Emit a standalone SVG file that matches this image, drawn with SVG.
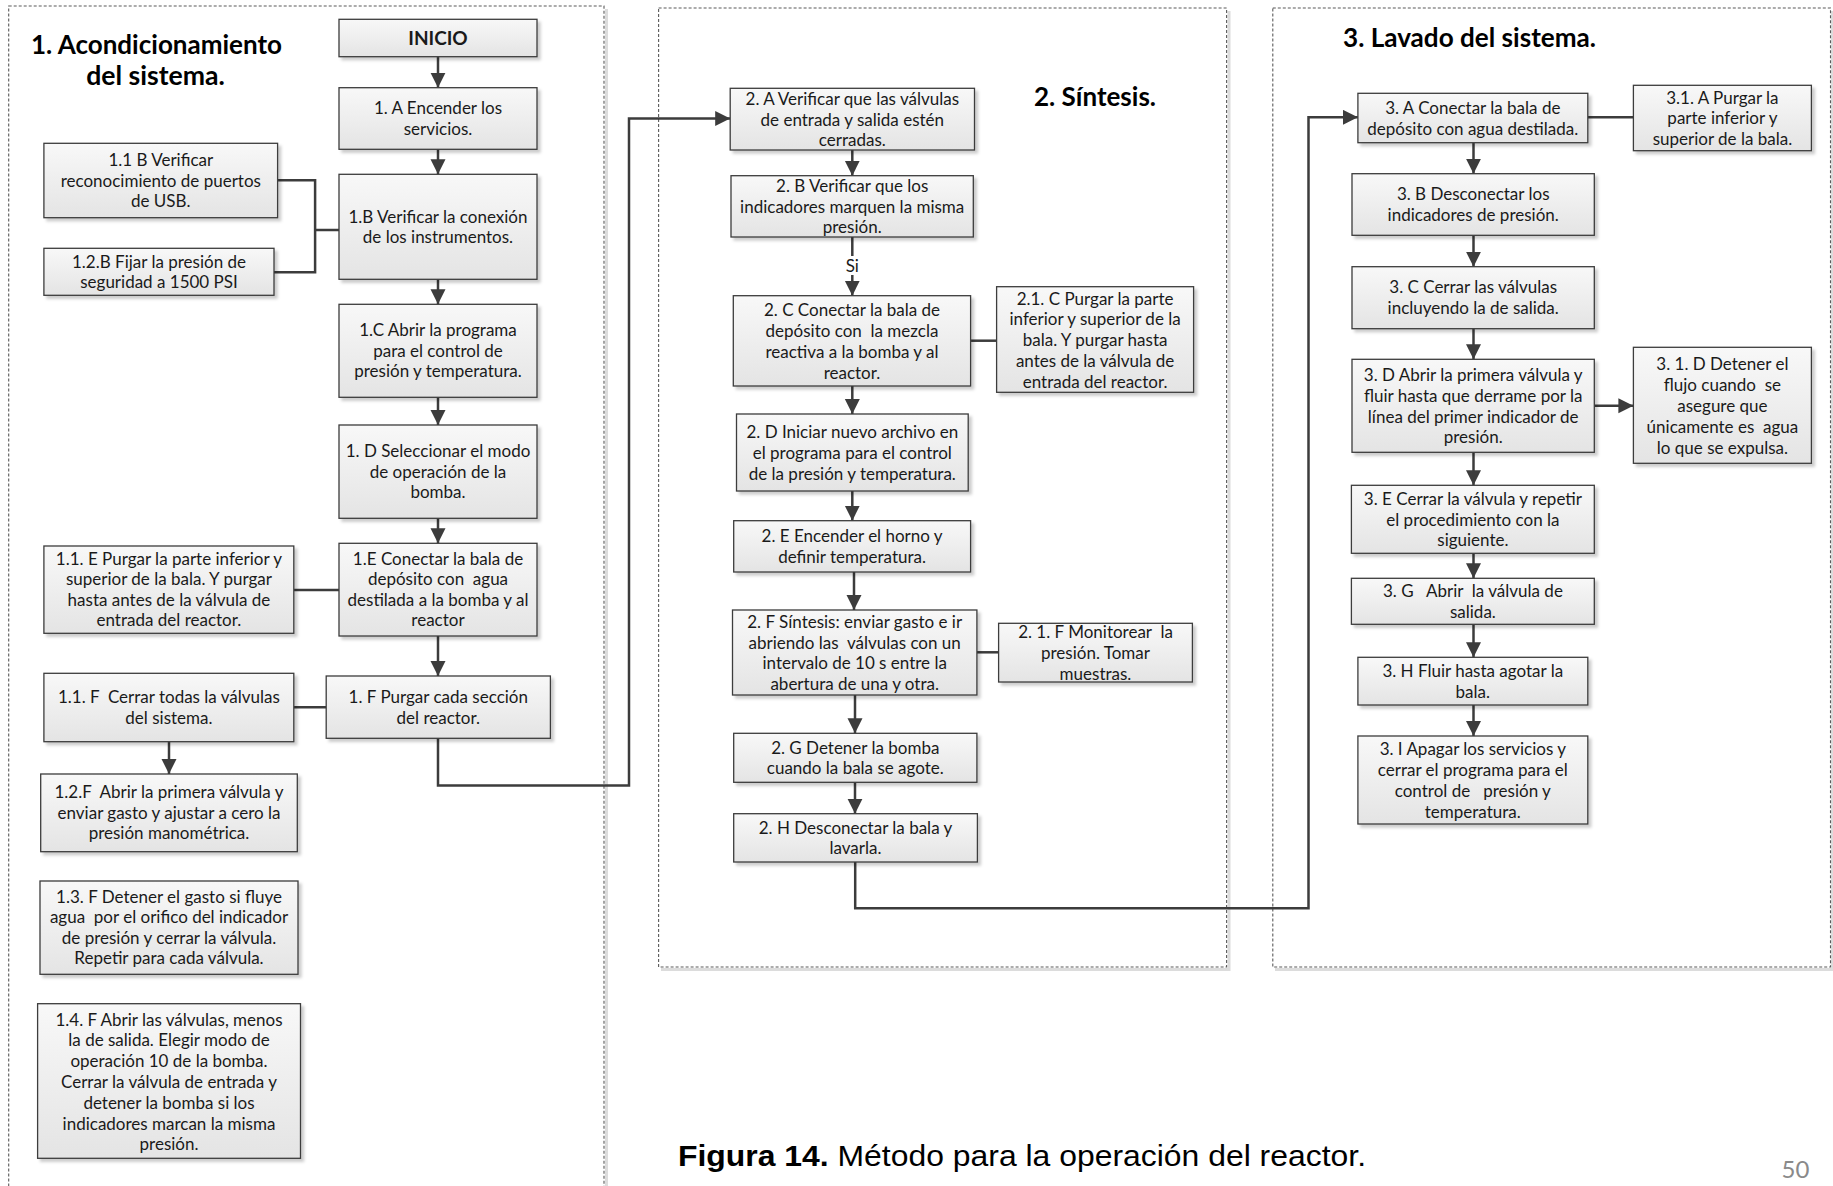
<svg xmlns="http://www.w3.org/2000/svg" width="1833" height="1186" viewBox="0 0 1833 1186">
<style>
.box{fill:url(#bg);stroke:#3c3c3c;stroke-width:1.3;filter:url(#sh)}
.t{font-family:Lato,"Liberation Sans",sans-serif;font-size:17px;fill:#1a1a1a;text-anchor:middle;white-space:pre}
.ttl{font-family:Lato,"Liberation Sans",sans-serif;font-size:27px;font-weight:bold;fill:#000;text-anchor:middle}
.c{fill:none;stroke:#3c3c3c;stroke-width:2.5}
.a{marker-end:url(#ah)}
.cont{fill:none;stroke:#5a5a5a;stroke-width:1.1;stroke-dasharray:3 2}
.cs{fill:none;stroke:#dcdcdc;stroke-width:3}
</style>
<defs>
<linearGradient id="bg" x1="0" y1="0" x2="0" y2="1"><stop offset="0" stop-color="#f8f8f8"/><stop offset="1" stop-color="#e4e4e4"/></linearGradient>
<filter id="sh" x="-10%" y="-10%" width="130%" height="140%"><feDropShadow dx="3" dy="3" stdDeviation="1.5" flood-color="#000" flood-opacity="0.2"/></filter>
<marker id="ah" markerUnits="userSpaceOnUse" markerWidth="16" markerHeight="16" refX="15" refY="7.5" orient="auto"><path d="M0,0 L15,7.5 L0,15 z" fill="#3c3c3c"/></marker>
</defs>
<rect width="1833" height="1186" fill="#fff"/>

<g id="containers">
<path class="cs" d="M606.5,9 V1186"/>
<rect class="cont" x="8.7" y="6" width="595.3" height="1190"/>
<path class="cs" d="M1229,11 V969.5 H661"/>
<rect class="cont" x="658.6" y="8" width="568" height="959"/>
<path class="cs" d="M1832.5,11 V969.5 H1275"/>
<rect class="cont" x="1272.8" y="8" width="557.7" height="959"/>
</g>

<g id="titles">
<text class="ttl" x="156.5" y="54.3" textLength="251" lengthAdjust="spacingAndGlyphs">1. Acondicionamiento</text>
<text class="ttl" x="155.5" y="85" textLength="138.6" lengthAdjust="spacingAndGlyphs">del sistema.</text>
<text class="ttl" x="1095" y="106" textLength="122" lengthAdjust="spacingAndGlyphs">2. Síntesis.</text>
<text class="ttl" x="1469.5" y="47.3" textLength="253" lengthAdjust="spacingAndGlyphs">3. Lavado del sistema.</text>
</g>

<g id="connectors">
<path class="c a" d="M438,56.7 V87.7"/>
<path class="c a" d="M438,149.3 V174.3"/>
<path class="c a" d="M438,279.3 V304.3"/>
<path class="c a" d="M438,397.3 V425"/>
<path class="c a" d="M438,518.3 V543.3"/>
<path class="c a" d="M438,636 V676"/>
<path class="c" d="M277.6,180.3 H315.1 V272.3 H274 M315.1,230 H339"/>
<path class="c" d="M293.8,590 H339"/>
<path class="c" d="M293.8,707.3 H326.2"/>
<path class="c a" d="M169,741.7 V774"/>
<path class="c a" d="M438,738.3 V785.6 H629 V118.5 H730.2"/>
<path class="c a" d="M852.3,150 V175.7"/>
<path class="c" d="M852.3,237 V256"/>
<path class="c a" d="M852.3,275 V295.7"/>
<path class="c" d="M970.6,340.7 H996.6"/>
<path class="c a" d="M852.3,386 V414"/>
<path class="c a" d="M852.3,491 V520.7"/>
<path class="c a" d="M854,572 V610"/>
<path class="c" d="M976.9,652.3 H998.6"/>
<path class="c a" d="M855,695 V733.3"/>
<path class="c a" d="M855,782.3 V813.7"/>
<path class="c a" d="M855.2,862 V908.3 H1308.5 V117.3 H1357.9"/>
<path class="c" d="M1587.8,117.3 H1633.4"/>
<path class="c a" d="M1473.5,142.7 V173.7"/>
<path class="c a" d="M1473.5,235.3 V266.7"/>
<path class="c a" d="M1473.5,328.7 V359.3"/>
<path class="c a" d="M1473.5,452.3 V485.3"/>
<path class="c a" d="M1594.3,405.7 H1633.4"/>
<path class="c a" d="M1473.5,553.3 V578.3"/>
<path class="c a" d="M1473.5,624.3 V657.3"/>
<path class="c a" d="M1473.5,705 V736"/>
<text class="t" x="852.3" y="272">Si</text>
</g>

<g id="n-inicio"><rect class="box" x="339" y="19.3" width="198" height="37.4"/><text class="t" x="438" y="44.5" style="font-weight:bold;font-size:19px">INICIO</text></g>
<g id="n-1A"><rect class="box" x="339" y="87.7" width="198" height="61.6"/><text class="t" x="438" y="114.25"><tspan x="438">1. A Encender los</tspan><tspan x="438" dy="20.5">servicios.</tspan></text></g>
<g id="n-11B"><rect class="box" x="43.9" y="143.3" width="233.7" height="74.4"/><text class="t" y="166"><tspan x="160.8">1.1 B Verificar</tspan><tspan x="160.8" dy="20.5">reconocimiento de puertos</tspan><tspan x="160.8" dy="20.5">de USB.</tspan></text></g>
<g id="n-1B"><rect class="box" x="339" y="174.3" width="198" height="105"/><text class="t" y="222.5"><tspan x="438">1.B Verificar la conexión</tspan><tspan x="438" dy="20.5">de los instrumentos.</tspan></text></g>
<g id="n-12B"><rect class="box" x="43.9" y="248.3" width="230.1" height="47"/><text class="t" y="267.6"><tspan x="159">1.2.B Fijar la presión de</tspan><tspan x="159" dy="20.5">seguridad a 1500 PSI</tspan></text></g>
<g id="n-1C"><rect class="box" x="339" y="304.3" width="198" height="93"/><text class="t" y="336.3"><tspan x="438">1.C Abrir la programa</tspan><tspan x="438" dy="20.5">para el control de</tspan><tspan x="438" dy="20.5">presión y temperatura.</tspan></text></g>
<g id="n-1D"><rect class="box" x="339" y="425" width="198" height="93.3"/><text class="t" y="457.2"><tspan x="438">1. D Seleccionar el modo</tspan><tspan x="438" dy="20.5">de operación de la</tspan><tspan x="438" dy="20.5">bomba.</tspan></text></g>
<g id="n-11E"><rect class="box" x="43.9" y="546" width="249.9" height="87.3"/><text class="t" y="564.9"><tspan x="168.9">1.1. E Purgar la parte inferior y</tspan><tspan x="168.9" dy="20.5">superior de la bala. Y purgar</tspan><tspan x="168.9" dy="20.5">hasta antes de la válvula de</tspan><tspan x="168.9" dy="20.5">entrada del reactor.</tspan></text></g>
<g id="n-1E"><rect class="box" x="339" y="543.3" width="198" height="92.7"/><text class="t" y="564.9"><tspan x="438">1.E Conectar la bala de</tspan><tspan x="438" dy="20.5">depósito con  agua</tspan><tspan x="438" dy="20.5">destilada a la bomba y al</tspan><tspan x="438" dy="20.5">reactor</tspan></text></g>
<g id="n-11F"><rect class="box" x="43.9" y="673.3" width="249.9" height="68.4"/><text class="t" y="703.25"><tspan x="168.9">1.1. F  Cerrar todas la válvulas</tspan><tspan x="168.9" dy="20.5">del sistema.</tspan></text></g>
<g id="n-1F"><rect class="box" x="326.2" y="676" width="224.2" height="62.3"/><text class="t" y="703"><tspan x="438.3">1. F Purgar cada sección</tspan><tspan x="438.3" dy="20.5">del reactor.</tspan></text></g>
<g id="n-12F"><rect class="box" x="40.7" y="774" width="256.6" height="77.7"/><text class="t" y="798.4"><tspan x="169">1.2.F  Abrir la primera válvula y</tspan><tspan x="169" dy="20.5">enviar gasto y ajustar a cero la</tspan><tspan x="169" dy="20.5">presión manométrica.</tspan></text></g>
<g id="n-13F"><rect class="box" x="40" y="881" width="258" height="93.3"/><text class="t" y="902.9"><tspan x="169">1.3. F Detener el gasto si fluye</tspan><tspan x="169" dy="20.5">agua  por el orifico del indicador</tspan><tspan x="169" dy="20.5">de presión y cerrar la válvula.</tspan><tspan x="169" dy="20.5">Repetir para cada válvula.</tspan></text></g>
<g id="n-14F"><rect class="box" x="37.6" y="1003.7" width="262.9" height="154.6"/><text class="t" y="1025.5"><tspan x="169">1.4. F Abrir las válvulas, menos</tspan><tspan x="169" dy="20.8">la de salida. Elegir modo de</tspan><tspan x="169" dy="20.8">operación 10 de la bomba.</tspan><tspan x="169" dy="20.8">Cerrar la válvula de entrada y</tspan><tspan x="169" dy="20.8">detener la bomba si los</tspan><tspan x="169" dy="20.8">indicadores marcan la misma</tspan><tspan x="169" dy="20.8">presión.</tspan></text></g>

<g id="n-2A"><rect class="box" x="730.2" y="88.3" width="244.3" height="61.7"/><text class="t" y="104.7"><tspan x="852.3">2. A Verificar que las válvulas</tspan><tspan x="852.3" dy="20.8">de entrada y salida estén</tspan><tspan x="852.3" dy="20.8">cerradas.</tspan></text></g>
<g id="n-2B"><rect class="box" x="731" y="175.7" width="242.3" height="61.3"/><text class="t" y="191.8"><tspan x="852.2">2. B Verificar que los</tspan><tspan x="852.2" dy="20.8">indicadores marquen la misma</tspan><tspan x="852.2" dy="20.8">presión.</tspan></text></g>
<g id="n-2C"><rect class="box" x="733.3" y="295.7" width="237.3" height="90.3"/><text class="t" y="316.1"><tspan x="852">2. C Conectar la bala de</tspan><tspan x="852" dy="20.8">depósito con  la mezcla</tspan><tspan x="852" dy="20.8">reactiva a la bomba y al</tspan><tspan x="852" dy="20.8">reactor.</tspan></text></g>
<g id="n-21C"><rect class="box" x="996.6" y="286.7" width="197" height="105.6"/><text class="t" y="304.5"><tspan x="1095.1">2.1. C Purgar la parte</tspan><tspan x="1095.1" dy="20.8">inferior y superior de la</tspan><tspan x="1095.1" dy="20.8">bala. Y purgar hasta</tspan><tspan x="1095.1" dy="20.8">antes de la válvula de</tspan><tspan x="1095.1" dy="20.8">entrada del reactor.</tspan></text></g>
<g id="n-2D"><rect class="box" x="736.5" y="414" width="231.7" height="77"/><text class="t" y="438"><tspan x="852.3">2. D Iniciar nuevo archivo en</tspan><tspan x="852.3" dy="20.8">el programa para el control</tspan><tspan x="852.3" dy="20.8">de la presión y temperatura.</tspan></text></g>
<g id="n-2E"><rect class="box" x="733.7" y="520.7" width="236.9" height="51.3"/><text class="t" y="542.1"><tspan x="852.1">2. E Encender el horno y</tspan><tspan x="852.1" dy="20.8">definir temperatura.</tspan></text></g>
<g id="n-2F"><rect class="box" x="732.5" y="610" width="244.4" height="85"/><text class="t" y="627.75"><tspan x="854.7">2. F Síntesis: enviar gasto e ir</tspan><tspan x="854.7" dy="20.8">abriendo las  válvulas con un</tspan><tspan x="854.7" dy="20.8">intervalo de 10 s entre la</tspan><tspan x="854.7" dy="20.8">abertura de una y otra.</tspan></text></g>
<g id="n-21F"><rect class="box" x="998.6" y="623.3" width="193.8" height="58.7"/><text class="t" y="638.2"><tspan x="1095.5">2. 1. F Monitorear  la</tspan><tspan x="1095.5" dy="20.8">presión. Tomar</tspan><tspan x="1095.5" dy="20.8">muestras.</tspan></text></g>
<g id="n-2G"><rect class="box" x="733.7" y="733.3" width="243.2" height="49"/><text class="t" y="753.6"><tspan x="855.3">2. G Detener la bomba</tspan><tspan x="855.3" dy="20.8">cuando la bala se agote.</tspan></text></g>
<g id="n-2H"><rect class="box" x="733.7" y="813.7" width="243.7" height="48.3"/><text class="t" y="833.6"><tspan x="855.5">2. H Desconectar la bala y</tspan><tspan x="855.5" dy="20.8">lavarla.</tspan></text></g>

<g id="n-3A"><rect class="box" x="1357.9" y="93.3" width="229.9" height="49.4"/><text class="t" y="113.75"><tspan x="1472.8">3. A Conectar la bala de</tspan><tspan x="1472.8" dy="20.8">depósito con agua destilada.</tspan></text></g>
<g id="n-31A"><rect class="box" x="1633.4" y="85.3" width="178" height="65.4"/><text class="t" y="103.5"><tspan x="1722.4">3.1. A Purgar la</tspan><tspan x="1722.4" dy="20.8">parte inferior y</tspan><tspan x="1722.4" dy="20.8">superior de la bala.</tspan></text></g>
<g id="n-3B"><rect class="box" x="1352" y="173.7" width="242.3" height="61.6"/><text class="t" y="200.25"><tspan x="1473.2">3. B Desconectar los</tspan><tspan x="1473.2" dy="20.8">indicadores de presión.</tspan></text></g>
<g id="n-3C"><rect class="box" x="1352" y="266.7" width="242.3" height="62"/><text class="t" y="293.45"><tspan x="1473.2">3. C Cerrar las válvulas</tspan><tspan x="1473.2" dy="20.8">incluyendo la de salida.</tspan></text></g>
<g id="n-3D"><rect class="box" x="1352" y="359.3" width="242.3" height="93"/><text class="t" y="381.05"><tspan x="1473.2">3. D Abrir la primera válvula y</tspan><tspan x="1473.2" dy="20.8">fluir hasta que derrame por la</tspan><tspan x="1473.2" dy="20.8">línea del primer indicador de</tspan><tspan x="1473.2" dy="20.8">presión.</tspan></text></g>
<g id="n-31D"><rect class="box" x="1633.4" y="347.3" width="178" height="116"/><text class="t" y="370.3"><tspan x="1722.4">3. 1. D Detener el</tspan><tspan x="1722.4" dy="20.8">flujo cuando  se</tspan><tspan x="1722.4" dy="20.8">asegure que</tspan><tspan x="1722.4" dy="20.8">únicamente es  agua</tspan><tspan x="1722.4" dy="20.8">lo que se expulsa.</tspan></text></g>
<g id="n-3E"><rect class="box" x="1351.4" y="485.3" width="242.9" height="68"/><text class="t" y="504.8"><tspan x="1472.9">3. E Cerrar la válvula y repetir</tspan><tspan x="1472.9" dy="20.8">el procedimiento con la</tspan><tspan x="1472.9" dy="20.8">siguiente.</tspan></text></g>
<g id="n-3G"><rect class="box" x="1351.4" y="578.3" width="242.9" height="46"/><text class="t" y="597.05"><tspan x="1472.9">3. G   Abrir  la válvula de</tspan><tspan x="1472.9" dy="20.8">salida.</tspan></text></g>
<g id="n-3H"><rect class="box" x="1357.9" y="657.3" width="229.9" height="47.7"/><text class="t" y="676.9"><tspan x="1472.8">3. H Fluir hasta agotar la</tspan><tspan x="1472.8" dy="20.8">bala.</tspan></text></g>
<g id="n-3I"><rect class="box" x="1357.9" y="736" width="229.9" height="88"/><text class="t" y="755.25"><tspan x="1472.8">3. I Apagar los servicios y</tspan><tspan x="1472.8" dy="20.8">cerrar el programa para el</tspan><tspan x="1472.8" dy="20.8">control de   presión y</tspan><tspan x="1472.8" dy="20.8">temperatura.</tspan></text></g>

<g id="caption">
<text x="678" y="1166" style="font-family:'Liberation Sans',Arial,sans-serif;font-size:29px;fill:#000" textLength="688" lengthAdjust="spacingAndGlyphs"><tspan font-weight="bold">Figura 14.</tspan> Método para la operación del reactor.</text>
<text x="1795.5" y="1178" style="font-family:Lato,sans-serif;font-size:24px;fill:#8a8a8a;text-anchor:middle">50</text>
</g>
</svg>
